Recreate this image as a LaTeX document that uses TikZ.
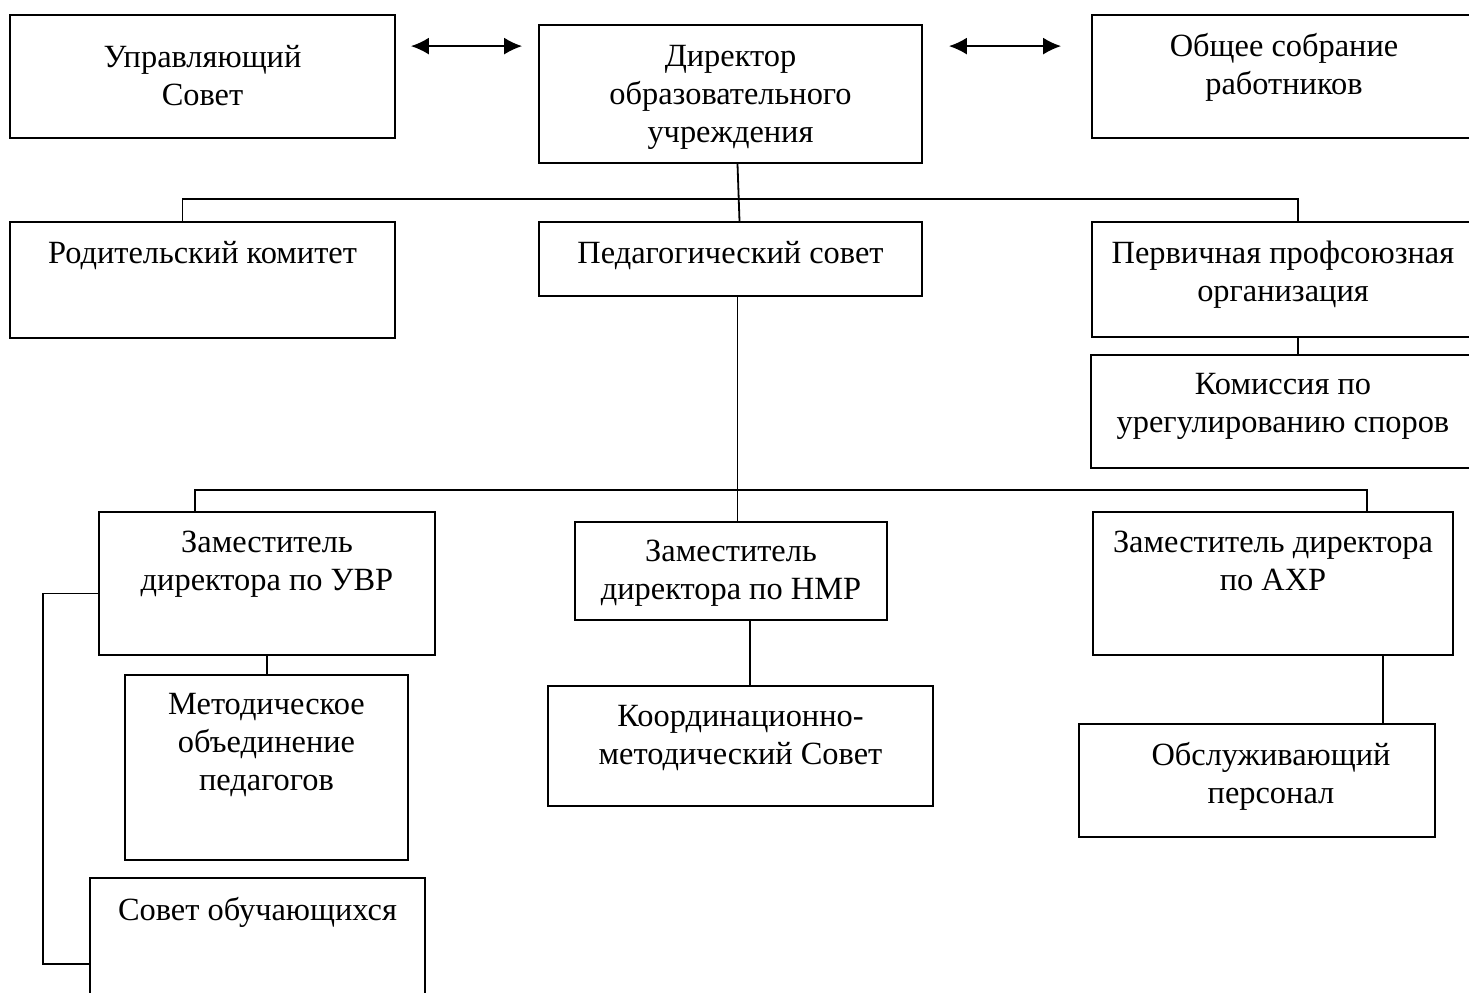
\documentclass[tikz,border=0pt]{standalone}
\usepackage{fontspec}
\setmainfont{Liberation Serif}
\usetikzlibrary{positioning,arrows.meta}

\begin{document}
\begin{tikzpicture}[x=0.5pt,y=-0.5pt,line width=0.9pt,
  box/.style={draw,inner sep=0pt},
  lbl/.style={align=center,inner sep=0pt,font=\fontsize{16.2}{19}\selectfont},
  dbl/.style={{Latex[length=9pt,width=8.5pt]}-{Latex[length=9pt,width=8.5pt]}}]
 \useasboundingbox (0,0) rectangle (1469,992);
 \clip (0,0) rectangle (1469,992);
 % boxes
 \node[box,minimum width=192.5pt,minimum height=61.5pt] (uprs)  at (202.5,76.5) {};
 \node[box,minimum width=191.5pt,minimum height=69pt]   (dir)   at (730.5,94)   {};
 \node[box,minimum width=192pt,minimum height=61.5pt]   (obs)   at (1284,76.5)  {};
 \node[box,minimum width=192.5pt,minimum height=58pt]   (rod)   at (202.5,280)  {};
 \node[box,minimum width=191.5pt,minimum height=37pt]   (ped)   at (730.5,259)  {};
 \node[box,minimum width=191pt,minimum height=57.5pt]   (perv)  at (1283,279.5) {};
 \node[box,minimum width=192pt,minimum height=56.5pt]   (kom)   at (1283,411.5) {};
 \node[box,minimum width=168pt,minimum height=71.5pt]   (uvr)   at (267,583.5)  {};
 \node[box,minimum width=156pt,minimum height=49pt]     (nmr)   at (731,571)    {};
 \node[box,minimum width=180pt,minimum height=71.5pt]   (ahr)   at (1273,583.5) {};
 \node[box,minimum width=141.5pt,minimum height=92.5pt] (met)   at (266.5,767.5){};
 \node[box,minimum width=192.5pt,minimum height=60pt]   (koord) at (740.5,746)  {};
 \node[box,minimum width=178pt,minimum height=56.5pt]   (obsl)  at (1257,780.5) {};
 \node[box,minimum width=167.5pt,minimum height=66pt]   (sov)   at (257.5,944)  {};
 % texts
 \node[lbl,below=15pt of uprs.north]  (t-uprs)  {Управляющий\\Совет};
 \node[lbl,below=10pt of dir.north]   (t-dir)   {Директор\\образовательного\\учреждения};
 \node[lbl,below=9pt of obs.north]    (t-obs)   {Общее собрание\\работников};
 \node[lbl,below=9.5pt of rod.north]  (t-rod)   {Родительский комитет};
 \node[lbl,below=9.5pt of ped.north]  (t-ped)   {Педагогический совет};
 \node[lbl,below=9.5pt of perv.north] (t-perv)  {Первичная профсоюзная\\организация};
 \node[lbl,below=9pt of kom.north]    (t-kom)   {Комиссия по\\урегулированию споров};
 \node[lbl,below=9.5pt of uvr.north]  (t-uvr)   {Заместитель\\директора по УВР};
 \node[lbl,below=9pt of nmr.north]    (t-nmr)   {Заместитель\\директора по НМР};
 \node[lbl,below=9.5pt of ahr.north]  (t-ahr)   {Заместитель директора\\по АХР};
 \node[lbl,below=9pt of met.north]    (t-met)   {Методическое\\объединение\\педагогов};
 \node[lbl,below=9.5pt of koord.north] (t-koord) {Координационно-\\методический Совет};
 \node[lbl,below=9pt of obsl.north,xshift=7pt] (t-obsl) {Обслуживающий\\персонал};
 \node[lbl,below=9.5pt of sov.north]  (t-sov)   {Совет обучающихся};
 % arrows
 \draw[dbl] ([xshift=7.5pt,yshift=-16pt]uprs.north east) -- ([xshift=-8pt,yshift=-11pt]dir.north west);
 \draw[dbl] ([xshift=13pt,yshift=-11pt]dir.north east) -- ([xshift=-15pt,yshift=-16pt]obs.north west);
 % connectors
 \draw ([xshift=3.5pt]dir.south) -- ([xshift=4.5pt]ped.north);
 \draw ([xshift=-10pt]rod.north) -- ++(0,11pt) -| ([xshift=7.5pt]perv.north);
 \draw ([xshift=7.5pt]perv.south) -- ([xshift=7.5pt]perv.south |- kom.north);
 \draw ([xshift=3.5pt]ped.south) -- ([xshift=3.5pt]ped.south |- nmr.north);
 \draw ([xshift=-36pt]uvr.north) -- ++(0,10.5pt) -| ([xshift=47pt]ahr.north);
 \draw (uvr.south) -- (uvr.south |- met.north);
 \draw ([xshift=9.5pt]nmr.south) -- ([xshift=9.5pt]nmr.south |- koord.north);
 \draw ([xshift=55pt]ahr.south) -- ([xshift=55pt]ahr.south |- obsl.north);
 \draw ([yshift=-5pt]uvr.west) -- ++(-27.5pt,0) |- ([yshift=-10pt]sov.west);
\end{tikzpicture}
\end{document}
